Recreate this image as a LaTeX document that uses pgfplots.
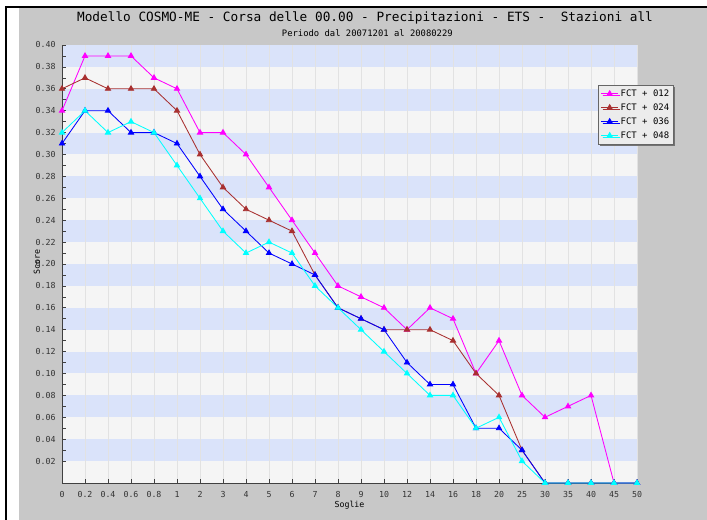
\documentclass[border=0pt]{standalone}
\usepackage{pgfplots}
\pgfplotsset{compat=1.18}
\usepackage{fontspec}
\setmainfont{DejaVu Sans Mono}
\usetikzlibrary{shadows}
\definecolor{bgray}{HTML}{C8C8C8}
\definecolor{bandblue}{HTML}{DAE3FA}
\definecolor{bandgray}{HTML}{F5F5F5}
\definecolor{gridc}{HTML}{E2E2E2}
\definecolor{mag}{HTML}{FF00FF}
\definecolor{brn}{HTML}{A83030}
\definecolor{blu}{HTML}{0000FF}
\definecolor{cya}{HTML}{00FFFF}
\definecolor{legbg}{HTML}{ECECEC}
\begin{document}
\begin{tikzpicture}[x=1bp,y=1bp]
\fill[white] (0,0) rectangle (707,520);
\fill[bgray] (19,0) rectangle (707,512);
\fill[black] (5,512) rectangle (707,514);
\fill[black] (5,0) rectangle (7,514);
% plot-area bands
\foreach \i in {0,...,19}{
  \pgfmathtruncatemacro{\odd}{mod(\i,2)}
  \ifnum\odd=0
    \fill[bandgray] (62,{37+\i*21.9}) rectangle (637,{37+(\i+1)*21.9});
  \else
    \fill[bandblue] (62,{37+\i*21.9}) rectangle (637,{37+(\i+1)*21.9});
  \fi
}
\begin{axis}[
  at={(62bp,37bp)}, anchor=south west,
  scale only axis, width=575bp, height=438bp,
  xmin=0, xmax=25, ymin=0, ymax=0.4,
  clip=false,
  axis x line=bottom, axis y line=left,
  axis line style={-, draw=black!75, line width=0.8bp},
  xtick={0,...,25},
  xticklabels={0,0.2,0.4,0.6,0.8,1,2,3,4,5,6,7,8,9,10,12,14,16,18,20,25,30,35,40,45,50},
  ytick={0.02,0.04,...,0.401},
  minor y tick num=1,
  tick align=inside,
  major tick length=4bp, minor tick length=4bp,
  tick style={draw=black!75, line width=0.6bp},
  xmajorgrids, major x grid style={draw=gridc, line width=0.9bp},
  yticklabel style={font=\fontsize{8.3}{9}\selectfont, text=black!80, xshift=-3bp,
    /pgf/number format/.cd, fixed, fixed zerofill, precision=2, assume math mode=true},
  xticklabel style={font=\fontsize{8.3}{9}\selectfont, text=black!80, yshift=-5bp},
  xlabel={Soglie}, ylabel={Score},
  xlabel style={font=\fontsize{8.3}{9}\selectfont, at={(axis description cs:0.5,-0.05)}, anchor=center},
  ylabel style={font=\fontsize{8.3}{9}\selectfont, at={(axis description cs:-0.0435,0.505)}, anchor=center},
  every axis plot/.append style={line width=0.85bp, mark=triangle*, mark size=3bp},
  legend cell align=left,
  legend style={at={(axis description cs:0.932,0.909)}, anchor=north west,
    font=\fontsize{9}{10}\selectfont, fill=legbg, draw=black!60, line width=0.7bp,
    inner sep=2.5bp, row sep=1.8bp,
    drop shadow={shadow xshift=1.5bp, shadow yshift=-1.5bp, fill=black!55, opacity=1}},
]
\node[font=\fontsize{12.8}{14}\selectfont] at (axis description cs:0.527,1.0616) {Modello COSMO-ME - Corsa delle 00.00 - Precipitazioni - ETS - ~Stazioni all};
\node[font=\fontsize{8.9}{10}\selectfont] at (axis description cs:0.531,1.0274) {Periodo dal 20071201 al 20080229};
\addplot[color=mag] coordinates {
(0,0.34)(1,0.39)(2,0.39)(3,0.39)(4,0.37)(5,0.36)(6,0.32)(7,0.32)(8,0.30)(9,0.27)
(10,0.24)(11,0.21)(12,0.18)(13,0.17)(14,0.16)(15,0.14)(16,0.16)(17,0.15)(18,0.10)(19,0.13)
(20,0.08)(21,0.06)(22,0.07)(23,0.08)(24,0)(25,0)};
\addlegendentry{FCT + 012}
\addplot[color=brn] coordinates {
(0,0.36)(1,0.37)(2,0.36)(3,0.36)(4,0.36)(5,0.34)(6,0.30)(7,0.27)(8,0.25)(9,0.24)
(10,0.23)(11,0.19)(12,0.16)(13,0.15)(14,0.14)(15,0.14)(16,0.14)(17,0.13)(18,0.10)(19,0.08)
(20,0.03)(21,0)(22,0)(23,0)(24,0)(25,0)};
\addlegendentry{FCT + 024}
\addplot[color=blu] coordinates {
(0,0.31)(1,0.34)(2,0.34)(3,0.32)(4,0.32)(5,0.31)(6,0.28)(7,0.25)(8,0.23)(9,0.21)
(10,0.20)(11,0.19)(12,0.16)(13,0.15)(14,0.14)(15,0.11)(16,0.09)(17,0.09)(18,0.05)(19,0.05)
(20,0.03)(21,0)(22,0)(23,0)(24,0)(25,0)};
\addlegendentry{FCT + 036}
\addplot[color=cya] coordinates {
(0,0.32)(1,0.34)(2,0.32)(3,0.33)(4,0.32)(5,0.29)(6,0.26)(7,0.23)(8,0.21)(9,0.22)
(10,0.21)(11,0.18)(12,0.16)(13,0.14)(14,0.12)(15,0.10)(16,0.08)(17,0.08)(18,0.05)(19,0.06)
(20,0.02)(21,0)(22,0)(23,0)(24,0)(25,0)};
\addlegendentry{FCT + 048}
\end{axis}
\pgfresetboundingbox
\useasboundingbox (0,0) rectangle (707,520);
\end{tikzpicture}
\end{document}
